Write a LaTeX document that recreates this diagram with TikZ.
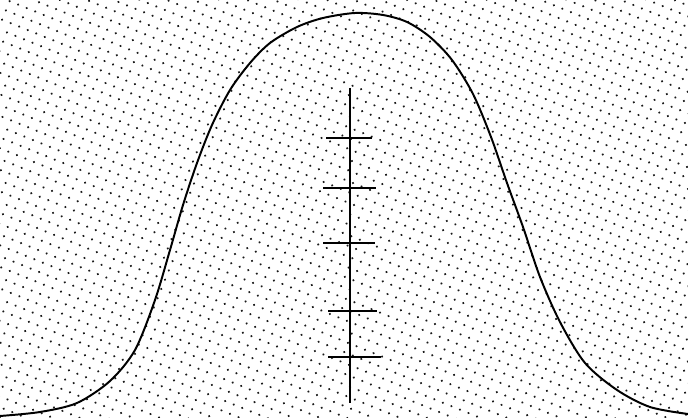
\documentclass[tikz,border=0pt]{standalone}
\usepackage{tikz}
\usetikzlibrary{patterns.meta}

% 点描の地
\pgfdeclarepattern{
  name=stipple,
  type=uncolored,
  bottom left={\pgfpoint{-0.115cm}{-0.125cm}},
  top right={\pgfpoint{0.115cm}{0.125cm}},
  tile size={\pgfpoint{0.23cm}{0.25cm}},
  tile transformation={\pgftransformrotate{-22}},
  code={\pgfpathcircle{\pgfpointorigin}{0.03cm}\pgfusepath{fill}}
}

\begin{document}
\begin{tikzpicture}[
  x=0.025cm, y=-0.025cm,
  ground/.style={pattern={stipple},pattern color=black!90},
  bell/.style={draw=black,line width=1.4pt,line join=round},
  spine/.style={draw=black,line width=1.7pt},
  crossbar/.style={draw=black,line width=1.3pt}
]

% 背景
\useasboundingbox (0,0) rectangle (688,418);
\fill[ground] (0,0) rectangle (688,418);

% 山形の曲線
\draw[bell] plot[smooth,tension=0.5] coordinates {
  (0,416) (40,412) (77,403) (110,381) (135,350) (155,300) (170,250)
  (183,205) (197,163) (212,125) (230,90) (250,63) (270,43) (297,27)
  (323,18) (355,13) (383,15) (407,22) (430,37) (452,60) (473,94)
  (491,137) (507,183) (523,227) (540,277) (560,322) (585,363)
  (617,390) (650,407) (688,414)};

% 縦の線と横の刻み
\coordinate (top) at (350,88);
\coordinate (bottom) at (350,403);
\draw[spine] (top) -- (bottom);
\foreach \y/\l/\r in {138/326/372, 188/323/376, 243/323/375, 311/328/377, 357/328/381}
  \draw[crossbar] (\l,\y) -- (\r,\y);

\end{tikzpicture}
\end{document}
